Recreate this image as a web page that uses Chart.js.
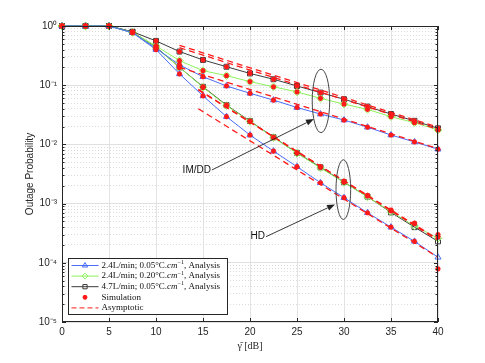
<!DOCTYPE html>
<html><head><meta charset="utf-8">
<script src="https://cdn.jsdelivr.net/npm/chart.js@4/dist/chart.umd.min.js"></script>
<style>html,body{margin:0;padding:0;background:#fff}</style>
</head><body>
<canvas id="c" width="485" height="363"></canvas>
<script>
// ---------- data ----------
const snrDb = [0,2.5,5,7.5,10,12.5,15,17.5,20,22.5,25,27.5,30,32.5,35,37.5,40];
const xTicks = [0,5,10,15,20,25,30,35,40];
const yDecades = [-5,-4,-3,-2,-1,0];
const yTickLabels = ['10\u207B\u2075','10\u207B\u2074','10\u207B\u00B3','10\u207B\u00B2','10\u207B\u00B9','10\u2070'];

// IM/DD analysis
const imddBlue  = [1,1,1,0.77,0.42,0.22,0.139,0.097,0.073,0.056,0.042,0.0326,0.0258,0.0195,0.0144,0.011,0.0083];
const imddGreen = [1,1,1,0.78,0.46,0.26,0.176,0.145,0.115,0.094,0.077,0.060,0.048,0.039,0.0294,0.0233,0.0175];
const imddBlack = [1,1,1,0.80,0.56,0.37,0.267,0.205,0.158,0.126,0.097,0.075,0.058,0.0435,0.0326,0.025,0.0187];
// HD analysis
const hdBlue  = [1,1,1,0.77,0.40,0.155,0.066,0.0294,0.0144,0.0077,0.0042,0.00225,0.00126,0.0007,0.0004,0.00023,0.000124];
const hdGreen = [1,1,1,0.78,0.43,0.20,0.092,0.045,0.0245,0.013,0.0071,0.0040,0.00228,0.0013,0.00073,0.00042,0.00026];
const hdBlack = [1,1,1,0.79,0.44,0.20,0.094,0.046,0.0248,0.0132,0.0072,0.0041,0.0023,0.00131,0.00071,0.00040,0.00023];
// Simulation
const simImddBlue  = [1,1,1,0.77,0.42,0.22,0.139,0.097,0.073,0.056,0.042,0.0326,0.0258,0.0195,0.0144,0.011,0.0083];
const simImddGreen = [1,1,1,0.78,0.46,0.26,0.176,0.145,0.115,0.094,0.077,0.060,0.048,0.039,0.0294,0.0233,0.0175];
const simImddBlack = [1,1,1,0.80,0.56,0.37,0.267,0.205,0.158,0.126,0.097,0.075,0.058,0.0435,0.0326,0.025,0.0187];
const simHdBlue  = [1,1,1,0.77,0.40,0.155,0.066,0.0294,0.0144,0.0077,0.0042,0.00225,0.00126,0.0007,0.0004,0.00023,0.000079];
const simHdGreen = [1,1,1,0.78,0.43,0.20,0.092,0.045,0.0245,0.013,0.0072,0.0042,0.0024,0.00138,0.00078,0.00047,0.00030];
const simHdBlack = [1,1,1,0.79,0.44,0.20,0.094,0.046,0.0248,0.0132,0.0072,0.0041,0.0023,0.00135,0.00075,0.00046,0.000275];
// Asymptotic (start / end points)
const asymImddX = [12.5,40];
const asymImddBlue  = [0.20,0.0085];
const asymImddGreen = [0.43,0.018];
const asymImddBlack = [0.47,0.0195];
const asymHdX = [14.5,40];
const asymHdBlue  = [0.040,0.000124];
const asymHdGreen = [0.083,0.00025];
const asymHdBlack = [0.085,0.00024];

const seriesLabels = ['2.4L/min; 0.05°C.cm⁻¹, Analysis','2.4L/min; 0.20°C.cm⁻¹, Analysis','4.7L/min; 0.05°C.cm⁻¹, Analysis','Simulation','Asymptotic'];

// annotations in data units
const imddEllipse = {x:27.55, yTop:0.186, yBottom:0.0158, halfWidthDb:0.93};
const hdEllipse   = {x:29.93, yTop:0.0055, yBottom:0.00054, halfWidthDb:0.78};
const imddArrow = {x0:15.95, y0:0.0037, x1:26.8, y1:0.0269, label:'IM/DD'};
const hdArrow   = {x0:21.7, y0:0.000276, x1:29.05, y1:0.00097, label:'HD'};

// ---------- styles ----------
const BLUE='#4a6cf7', GREEN='#8cf25a', BLACK='#3a3a3a', RED='#ff1a1a';
const pts = (xs, ys) => xs.map((x,i)=>({x:x,y:ys[i]}));

function analysis(label, ys, color, style){
  return {label:label, data:pts(snrDb,ys), borderColor:color, backgroundColor:color, borderWidth:1,
    pointStyle:style, pointRadius: style==='rectRot'?3.8:3.5, pointBorderColor:color, pointBackgroundColor:'rgba(0,0,0,0)',
    pointBorderWidth:1, tension:0, order:3, clip:false};
}
function sim(ys){
  return {label:'Simulation', data:pts(snrDb,ys), showLine:false, pointStyle:'star', pointRadius:2.6,
    pointBorderColor:RED, pointBackgroundColor:RED, pointBorderWidth:1.5, borderColor:RED, order:0, clip:false};
}
function asym(xs, ys){
  return {label:'Asymptotic', data:pts(xs,ys), borderColor:RED, borderWidth:1.3, borderDash:[6,4],
    pointRadius:0, tension:0, order:1, clip:false};
}

const datasets = [
  analysis(seriesLabels[0], imddBlue, BLUE, 'triangle'),
  analysis(seriesLabels[1], imddGreen, GREEN, 'rectRot'),
  analysis(seriesLabels[2], imddBlack, BLACK, 'rect'),
  analysis(seriesLabels[0], hdBlue, BLUE, 'triangle'),
  analysis(seriesLabels[1], hdGreen, GREEN, 'rectRot'),
  analysis(seriesLabels[2], hdBlack, BLACK, 'rect'),
  asym(asymImddX, asymImddBlue), asym(asymImddX, asymImddGreen), asym(asymImddX, asymImddBlack),
  asym(asymHdX, asymHdBlue), asym(asymHdX, asymHdGreen), asym(asymHdX, asymHdBlack),
  sim(simImddBlue), sim(simImddGreen), sim(simImddBlack), sim(simHdBlue), sim(simHdGreen), sim(simHdBlack)
];

const AX='#262626';
const isDecade = v => Math.abs(Math.log10(v) - Math.round(Math.log10(v))) < 1e-6;

// frame, inward ticks, legend, annotations
const decorPlugin = {
  id:'decor',
  afterDraw(chart){
    const ctx = chart.ctx, a = chart.chartArea, xs = chart.scales.x, ys = chart.scales.y;
    ctx.save();
    // frame
    ctx.strokeStyle = AX; ctx.lineWidth = 1;
    ctx.strokeRect(Math.round(a.left)+0.5, Math.round(a.top)+0.5, Math.round(a.right-a.left)-1, Math.round(a.bottom-a.top)-1);
    // ticks inward
    ctx.beginPath();
    xTicks.forEach(v=>{ const px = Math.round(xs.getPixelForValue(v))+0.5;
      ctx.moveTo(px,a.bottom); ctx.lineTo(px,a.bottom-4); ctx.moveTo(px,a.top); ctx.lineTo(px,a.top+4); });
    ys.ticks.forEach(t=>{ const py = Math.round(ys.getPixelForValue(t.value))+0.5; const L = isDecade(t.value)?4:2.5;
      ctx.moveTo(a.left,py); ctx.lineTo(a.left+L,py); ctx.moveTo(a.right,py); ctx.lineTo(a.right-L,py); });
    ctx.stroke();

    // ellipses
    ctx.strokeStyle = '#333'; ctx.lineWidth = 0.9;
    [imddEllipse, hdEllipse].forEach(e=>{
      const cx = xs.getPixelForValue(e.x);
      const rx = xs.getPixelForValue(e.x+e.halfWidthDb) - cx;
      const t = ys.getPixelForValue(e.yTop), b = ys.getPixelForValue(e.yBottom);
      ctx.beginPath(); ctx.ellipse(cx,(t+b)/2,rx,(b-t)/2,0,0,Math.PI*2); ctx.stroke();
    });
    // arrows
    [imddArrow, hdArrow].forEach(ar=>{
      const x0 = xs.getPixelForValue(ar.x0), y0 = ys.getPixelForValue(ar.y0);
      const x1 = xs.getPixelForValue(ar.x1), y1 = ys.getPixelForValue(ar.y1);
      const ang = Math.atan2(y1-y0,x1-x0), hl = 8, hw = 3;
      ctx.strokeStyle = '#222'; ctx.fillStyle = '#222'; ctx.lineWidth = 0.9;
      ctx.beginPath(); ctx.moveTo(x0,y0); ctx.lineTo(x1-hl*Math.cos(ang), y1-hl*Math.sin(ang)); ctx.stroke();
      ctx.beginPath(); ctx.moveTo(x1,y1);
      ctx.lineTo(x1-hl*Math.cos(ang)+hw*Math.sin(ang), y1-hl*Math.sin(ang)-hw*Math.cos(ang));
      ctx.lineTo(x1-hl*Math.cos(ang)-hw*Math.sin(ang), y1-hl*Math.sin(ang)+hw*Math.cos(ang));
      ctx.closePath(); ctx.fill();
      ctx.font = '10px "Liberation Sans", Arial, sans-serif'; ctx.fillStyle = '#111';
      ctx.textAlign = 'right'; ctx.textBaseline = 'middle';
      ctx.fillText(ar.label, x0-1, y0);
    });

    // legend (bottom-left inside axes)
    const bx = a.left+6.5, by = a.bottom-63.5, bw = 159, bh = 56;
    ctx.fillStyle = '#fff'; ctx.fillRect(bx,by,bw,bh);
    ctx.strokeStyle = AX; ctx.lineWidth = 1; ctx.strokeRect(bx,by,bw,bh);
    const rows = [
      {color:BLUE, style:'triangle', dash:[], line:true, parts:[['2.4L/min; 0.05°C.',''],['cm','italic '],['−1','sup'],[', Analysis','']]},
      {color:GREEN, style:'rectRot', dash:[], line:true, parts:[['2.4L/min; 0.20°C.',''],['cm','italic '],['−1','sup'],[', Analysis','']]},
      {color:BLACK, style:'rect', dash:[], line:true, parts:[['4.7L/min; 0.05°C.',''],['cm','italic '],['−1','sup'],[', Analysis','']]},
      {color:RED, style:'star', dash:[], line:false, parts:[['Simulation','']]},
      {color:RED, style:false, dash:[5,3], line:true, parts:[['Asymptotic','']]}
    ];
    const H = Chart.helpers || {};
    rows.forEach((r,i)=>{
      const y = by + 7 + i*10.6;
      const lx0 = bx+3, lx1 = bx+30, mx = (lx0+lx1)/2;
      if (r.line){ ctx.strokeStyle = r.color; ctx.lineWidth = 1; ctx.setLineDash(r.dash);
        ctx.beginPath(); ctx.moveTo(lx0,y); ctx.lineTo(lx1,y); ctx.stroke(); ctx.setLineDash([]); }
      if (r.style && H.drawPoint){
        ctx.strokeStyle = r.color; ctx.fillStyle = r.style==='star'?r.color:'rgba(0,0,0,0)';
        ctx.lineWidth = r.style==='star'?1.5:1;
        H.drawPoint(ctx,{pointStyle:r.style, radius:r.style==='star'?2.4:3, borderWidth:r.style==='star'?1.5:1, rotation:0}, mx, y);
      }
      let tx = bx+33; ctx.fillStyle = '#111'; ctx.textAlign='left'; ctx.textBaseline='middle';
      r.parts.forEach(p=>{
        if (p[1]==='sup'){ ctx.font = '6px "Liberation Serif", "DejaVu Serif", serif'; ctx.fillText(p[0],tx,y-3); tx += ctx.measureText(p[0]).width; }
        else { ctx.font = p[1]+'9px "Liberation Serif", "DejaVu Serif", serif'; ctx.fillText(p[0],tx,y); tx += ctx.measureText(p[0]).width; }
      });
    });
    ctx.restore();
  }
};

new Chart(document.getElementById('c'), {
  type:'line',
  data:{datasets:datasets},
  options:{
    responsive:false, animation:false, devicePixelRatio:1,
    layout:{padding:{top:26,right:47,left:0,bottom:0}},
    plugins:{legend:{display:false}, tooltip:{enabled:false}},
    scales:{
      x:{type:'linear', min:0, max:40,
        afterBuildTicks: s => { s.ticks = xTicks.map(v=>({value:v})); },
        afterFit: s => { s.height = 41; },
        ticks:{padding:4, maxRotation:0, color:AX, font:{family:'"Liberation Sans", Arial, sans-serif', size:10}},
        grid:{color:'#e3e3e3', lineWidth:1, drawTicks:false},
        border:{display:false},
        title:{display:true, text:'γ̄ [dB]', color:AX, padding:{top:0,bottom:11},
          font:{family:'"Liberation Serif", "DejaVu Serif", serif', size:10}}
      },
      y:{type:'logarithmic', min:1e-5, max:1,
        afterBuildTicks: s => { const t=[]; yDecades.forEach(e=>{ for(let m=1;m<=9;m++){ const v=m*Math.pow(10,e); if(v<=1.0000001) t.push({value:v}); } }); s.ticks=t; },
        afterFit: s => { s.width = 62; },
        ticks:{padding:5, color:AX, autoSkip:false, font:{family:'"Liberation Sans", Arial, sans-serif', size:10},
          callback:(v)=>{ if(!isDecade(v)) return ''; const e=Math.round(Math.log10(v)); return yTickLabels[yDecades.indexOf(e)]; }},
        grid:{drawTicks:false, lineWidth:1, color: c => (c.tick && isDecade(c.tick.value)) ? '#e0e0e0' : '#dcdcdc'},
        border:{display:false, dash: c => (c.type==='tick' && c.tick && !isDecade(c.tick.value)) ? [1,2] : []},
        title:{display:true, text:'Outage Probability', color:AX, padding:{top:24,bottom:0},
          font:{family:'"Liberation Sans", Arial, sans-serif', size:10}}
      }
    }
  },
  plugins:[decorPlugin]
});
</script>
</body></html>
